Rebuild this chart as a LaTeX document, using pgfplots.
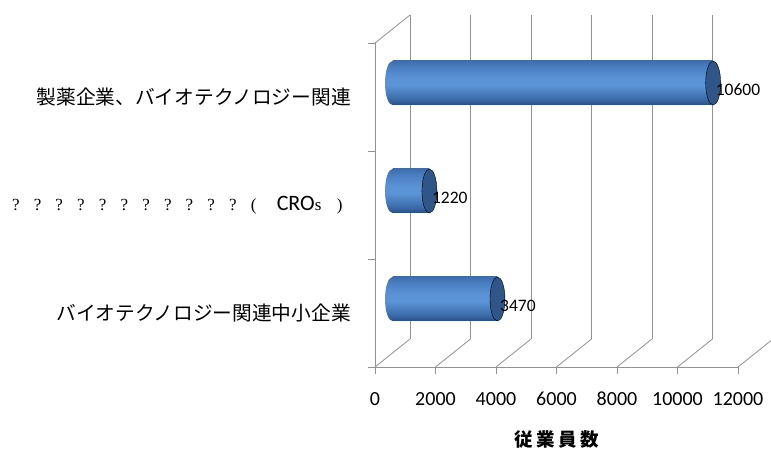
\documentclass[border=0pt]{standalone}
\usepackage{pgfplots}
\pgfplotsset{compat=1.18}
\usepackage{pgfplotstable}
\usepackage{fontspec}
\setmainfont{Carlito}
\newfontfamily\jp{Noto Sans CJK JP}
\newfontfamily\tnr{Liberation Serif}

\definecolor{gridgray}{HTML}{929292}
\definecolor{barTop}{HTML}{3F6DAE}
\definecolor{barHi}{HTML}{5B94D6}
\definecolor{barUp}{HTML}{4A7FC3}
\definecolor{barLow}{HTML}{3A68A6}
\definecolor{barBot}{HTML}{2A4D80}
\definecolor{capFill}{HTML}{2F5589}

% rounded body of a lying cylinder (the path spans 25bp..75bp of the shading)
\pgfdeclareverticalshading{cylinder}{100bp}{%
  color(0bp)=(barBot); color(25bp)=(barBot); color(31bp)=(barLow);
  color(47bp)=(barHi); color(55bp)=(barHi); color(68bp)=(barUp);
  color(75bp)=(barTop); color(100bp)=(barTop)}
% curved left end, shaded like the body
\pgfdeclareplotmark{cylend}{%
  \pgfpathellipse{\pgfpointorigin}{\pgfpoint{\pgfplotmarksize}{0pt}}{\pgfpoint{0pt}{\pgfplotmarksize}}%
  \pgfshadepath{cylinder}{0}%
  \pgfusepath{discard}}

% employees per sector (pos 0 = bottom row)
\pgfplotstableread{
pos start value label
0   0     3470  3470
1   0     1220  1220
2   0     10600 10600
}\employees

\newcommand\qm{\makebox[21.7pt][l]{?}}
\newcommand\crolabel{{\tnr\fontsize{17}{17}\selectfont\qm\qm\qm\qm\qm\qm\qm\qm\qm\qm\qm\makebox[24pt][l]{(}}%
  \makebox[40pt][r]{\fontsize{22}{22}\selectfont CRO}%
  {\tnr\fontsize{17}{17}\selectfont\makebox[22pt][l]{s}\makebox[14pt][l]{)}}}

\begin{document}
\begin{tikzpicture}
\useasboundingbox (0,0) rectangle (771pt,450pt);

% back wall: vertical gridlines
\begin{axis}[
  at={(410pt,111pt)}, anchor=south west,
  scale only axis, width=363pt, height=324pt,
  xmin=0, xmax=12000, ymin=0, ymax=1,
  axis line style={draw=none},
  scaled x ticks=false,
  xtick={0,2000,...,12000}, xticklabels={}, ytick=\empty,
  major tick length=0pt,
  xmajorgrids, grid style={gridgray, line width=0.8pt},
]
\end{axis}

% front axes, floor and tick labels
\begin{axis}[
  at={(375pt,83pt)}, anchor=south west,
  scale only axis, width=363pt, height=324pt,
  xmin=0, xmax=12000, ymin=-0.5, ymax=2.5,
  clip=false,
  axis x line*=bottom, axis y line*=left,
  axis line style={gridgray, line width=0.8pt},
  tick align=outside, major tick length=7pt,
  tick style={gridgray, line width=0.8pt},
  scaled x ticks=false,
  xtick={0,2000,...,12000},
  xticklabels={0,2000,4000,6000,8000,10000,12000},
  xticklabel style={font=\fontsize{20}{20}\selectfont, anchor=base, inner sep=0pt, yshift=-31pt},
  ytick={-0.5,0.5,1.5,2.5},
  y tick label as interval,
  yticklabels={{\jp バイオテクノロジー関連中小企業},{\crolabel},{\jp 製薬企業、バイオテクノロジー関連}},
  yticklabel style={font=\fontsize{19.7}{20}\selectfont, anchor=east, inner sep=0pt, xshift=-17pt},
  xlabel={\jp\bfseries \makebox[22pt]{従}\makebox[22pt]{業}\makebox[22pt]{員}\makebox[22pt]{数}},
  xlabel style={font=\fontsize{18.5}{18.5}\selectfont, at={(axis description cs:0.5,0)}, anchor=center, yshift=-73pt},
  /pgf/number format/assume math mode=true,
]
\pgfplotsinvokeforeach{0,2000,4000,6000,8000,10000,12000}{
  \draw[gridgray, line width=0.8pt] (axis cs:#1,-0.5) -- ++(35pt,28pt);
}
\draw[gridgray, line width=0.8pt] (axis cs:0,2.5) -- ++(35pt,28pt);
\end{axis}

% cylinders, set half a depth step back
\begin{axis}[
  at={(392.5pt,97pt)}, anchor=south west,
  scale only axis, width=363pt, height=324pt,
  xmin=0, xmax=12000, ymin=-0.5, ymax=2.5,
  hide axis, clip=false,
]
\addplot[only marks, mark=cylend, mark size=22pt,
  mark options={xscale=0.34}]
  table[x=start, y=pos]{\employees};
\addplot[xbar, bar width=44pt, bar shift=0pt, draw=none, shade, shading=cylinder]
  coordinates {(3470,0)};
\addplot[xbar, bar width=44pt, bar shift=0pt, draw=none, shade, shading=cylinder]
  coordinates {(1220,1)};
\addplot[xbar, bar width=44pt, bar shift=0pt, draw=none, shade, shading=cylinder]
  coordinates {(10600,2)};
\addplot[only marks, mark=*, mark size=22pt,
  mark options={xscale=0.34, fill=capFill, draw=none},
  point meta=explicit symbolic,
  nodes near coords,
  nodes near coords style={anchor=west, inner sep=0pt, xshift=2.5pt, yshift=-7pt,
    font=\fontsize{17.5}{18}\selectfont, text=black}]
  table[x=value, y=pos, meta=label]{\employees};
\end{axis}
\end{tikzpicture}
\end{document}
